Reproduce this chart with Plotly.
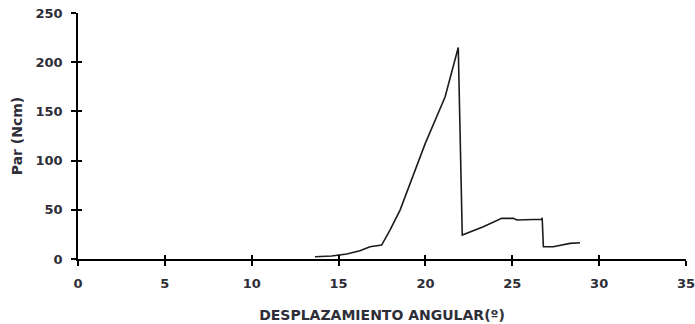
import plotly.graph_objects as go

# Data
desplazamiento = [13.64, 14.6, 15.47, 16.23, 16.81, 17.48, 17.96, 18.54, 19.98, 21.13, 21.89,
                  22.12, 23.33, 24.39, 25.06, 25.26, 26.70, 26.72, 26.79, 27.36, 28.32, 28.9]
par = [2.3, 3.0, 5.1, 8.4, 12.5, 14.2, 29.4, 49.7, 117.0, 164.6, 215.0,
       24.3, 32.8, 41.3, 41.3, 39.6, 40.3, 42.0, 12.5, 12.5, 15.9, 16.5]

x_ticks = [0, 5, 10, 15, 20, 25, 30, 35]
y_ticks = [0, 50, 100, 150, 200, 250]

FONT = "DejaVu Sans"
TXT = "#2e2e38"

fig = go.Figure()
fig.add_trace(go.Scatter(x=desplazamiento, y=par, mode="lines",
                         line=dict(color="#1c1c1c", width=1.6), showlegend=False))
# same data on overlay axes (invisible) so the inner half of the crossing ticks is drawn
fig.add_trace(go.Scatter(x=desplazamiento, y=par, mode="markers", xaxis="x2", yaxis="y2",
                         marker=dict(opacity=0), showlegend=False, hoverinfo="skip"))

axis_common = dict(showgrid=False, zeroline=False, showline=True, linecolor="black",
                   linewidth=1.6, tickcolor="black", tickwidth=1.5, automargin=False,
                   ticklabeloverflow="allow")

fig.update_layout(
    width=695, height=324,
    margin=dict(l=78, r=9, t=13, b=65),
    paper_bgcolor="white", plot_bgcolor="white",
    font=dict(family=FONT, color=TXT),
    xaxis=dict(range=[0, 35], tickvals=x_ticks, ticks="outside", ticklen=5,
               ticklabelstandoff=7,
               tickfont=dict(family=FONT, size=13, color=TXT, weight="bold"),
               title=dict(text="DESPLAZAMIENTO ANGULAR(º)", standoff=20,
                          font=dict(family=FONT, size=14, color=TXT, weight="bold")),
               **axis_common),
    yaxis=dict(range=[0, 250], tickvals=y_ticks, ticks="outside", ticklen=5,
               ticklabelstandoff=6,
               tickfont=dict(family=FONT, size=13, color=TXT, weight="bold"),
               title=dict(text="Par (Ncm)", standoff=10,
                          font=dict(family=FONT, size=14, color=TXT, weight="bold")),
               **axis_common),
    xaxis2=dict(range=[0, 35], tickvals=x_ticks, ticks="inside", ticklen=4, overlaying="x",
                anchor="y2", showticklabels=False, showgrid=False, zeroline=False,
                showline=False, tickcolor="black", tickwidth=1.5),
    yaxis2=dict(range=[0, 250], tickvals=y_ticks, ticks="inside", ticklen=4, overlaying="y",
                anchor="x2", showticklabels=False, showgrid=False, zeroline=False,
                showline=False, tickcolor="black", tickwidth=1.5),
)

fig.write_html("out.html", config={"displayModeBar": False},
               post_script="document.body.style.margin='0';")
